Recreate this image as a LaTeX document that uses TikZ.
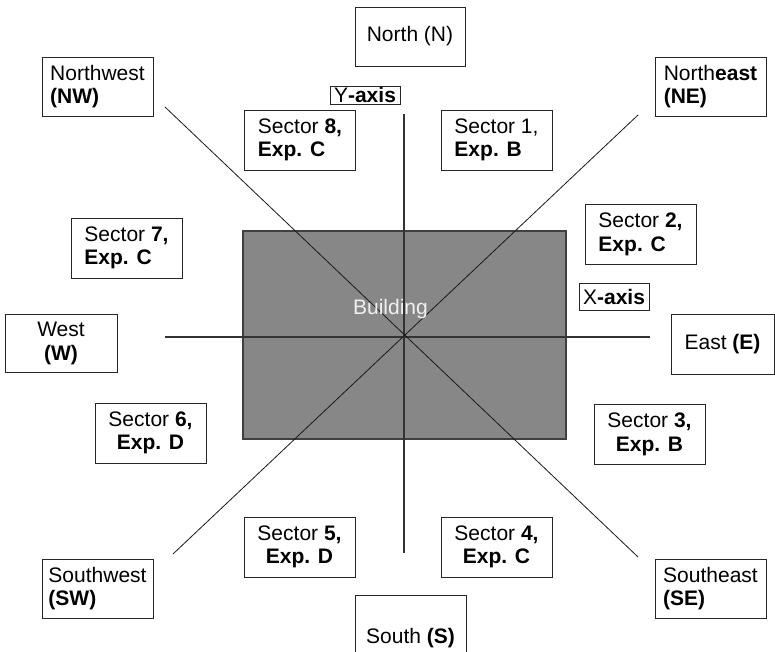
\documentclass[tikz,border=0pt]{standalone}
\usepackage{fontspec}
\setmainfont{Liberation Sans}

\begin{document}
\begin{tikzpicture}[x=1pt,y=1pt,
    every node/.style={font=\fontsize{21}{23.5}\selectfont},
    box/.style={draw=black!85,line width=0.9pt,inner sep=0pt,minimum width=111pt,minimum height=60pt},
    axisbox/.style={draw=black!85,line width=0.9pt,inner sep=0pt,minimum width=70pt},
    axisline/.style={line width=1.2pt,black!80},
    diagline/.style={line width=0.8pt,black!90}]
  \clip (0,0) rectangle (775,652);
  \coordinate (c) at (404,315);
  % the building
  \node[fill=black!47,draw=black!75,line width=1.2pt,minimum width=323pt,minimum height=208pt] (bldg) at (404.5,317) {};
  % ends of the axes
  \coordinate (ntop) at (404,538);
  \coordinate (sbot) at (404,99);
  \coordinate (wend) at (165,315);
  \coordinate (eend) at (650,315);
  \coordinate (nwend) at (165,545);
  \coordinate (seend) at (638,95);
  \coordinate (neend) at (638,537);
  \coordinate (swend) at (173,98);
  \draw[axisline] (ntop) -- (sbot);
  \draw[axisline] (wend) -- (eend);
  \draw[diagline] (nwend) -- (seend);
  \draw[diagline] (neend) -- (swend);
  \node[text=white!94!black] (bldtxt) at (390.5,343) {Building};
  % directions
  \node[box,minimum width=110pt,minimum height=59pt] (north) at (410,615.5) {North (N)};
  \node[box,minimum height=86pt] (south) at (410.5,14) {South \textbf{(S)}};
  \node[box,minimum width=112pt,minimum height=58pt,align=center] (west) at (61,308.5) {West\\\textbf{(W)}};
  \node[box,minimum width=103pt] (east) at (722.5,308) {East \textbf{(E)}};
  \node[box,minimum height=59pt,align=left] (nw) at (97.5,565.5) {Northwest\\\textbf{(NW)}};
  \node[box,minimum height=59pt,align=left] (ne) at (710.5,565.5) {North\textbf{east}\\\textbf{(NE)}};
  \node[box,minimum height=59pt,align=left] (sw) at (97.5,63.5) {Southwest\\\textbf{(SW)}};
  \node[box,minimum height=59pt,align=left] (se) at (710.5,63.5) {Southeast\\\textbf{(SE)}};
  % axis labels
  \node[axisbox,minimum height=18pt] (yaxis) at (365,557) {Y\textbf{-axis}};
  \node[axisbox,minimum height=27pt] (xaxis) at (614,355) {X\textbf{-axis}};
  % sectors
  \node[box,align=left] (sec1) at (496.5,512) {Sector 1,\\\textbf{Exp. B}};
  \node[box,align=left] (sec2) at (640.5,417.5) {Sector \textbf{2,}\\\textbf{Exp. C}};
  \node[box,align=center] (sec3) at (649.5,217.5) {Sector \textbf{3,}\\\textbf{Exp. B}};
  \node[box,align=center] (sec4) at (496.5,105) {Sector \textbf{4,}\\\textbf{Exp. C}};
  \node[box,align=center] (sec5) at (299.5,105) {Sector \textbf{5,}\\\textbf{Exp. D}};
  \node[box,align=center] (sec6) at (150.5,219) {Sector \textbf{6,}\\\textbf{Exp. D}};
  \node[box,align=left] (sec7) at (126.5,404) {Sector \textbf{7,}\\\textbf{Exp. C}};
  \node[box,align=left] (sec8) at (300,512) {Sector \textbf{8,}\\\textbf{Exp. C}};
\end{tikzpicture}
\end{document}
